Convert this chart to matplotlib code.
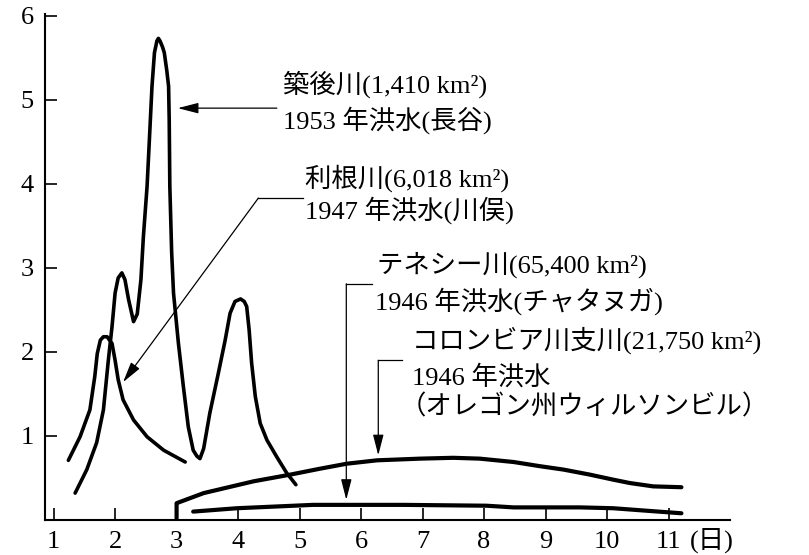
import matplotlib
matplotlib.use("Agg")
import matplotlib.pyplot as plt

plt.rcParams['font.family'] = ['Liberation Serif', 'Noto Sans CJK JP', 'DejaVu Sans']

# 筑後川 1953 (長谷)
chikugo_x = [1.35, 1.54, 1.70, 1.81, 1.89, 1.95, 2.0, 2.05, 2.11, 2.16, 2.22, 2.30, 2.36,
             2.42, 2.46, 2.52, 2.56, 2.60, 2.64, 2.68, 2.704, 2.73, 2.77, 2.80, 2.84, 2.87, 2.88,
             2.89, 2.92, 2.94, 2.95, 3.03, 3.11, 3.19, 3.27, 3.33, 3.38, 3.44, 3.54, 3.68, 3.79,
             3.87, 3.95, 4.04, 4.10, 4.14, 4.18, 4.22, 4.28, 4.36, 4.47, 4.63, 4.79, 4.94]
chikugo_y = [0.32, 0.60, 0.92, 1.31, 1.90, 2.30, 2.70, 2.88, 2.94, 2.86, 2.62, 2.36, 2.45,
             2.86, 3.37, 3.97, 4.56, 5.16, 5.56, 5.70, 5.73, 5.70, 5.63, 5.56, 5.35, 5.16, 4.76,
             3.97, 3.18, 2.86, 2.70, 2.10, 1.59, 1.11, 0.83, 0.76, 0.73, 0.85, 1.27, 1.75, 2.14,
             2.46, 2.60, 2.63, 2.60, 2.54, 2.26, 1.87, 1.47, 1.15, 0.95, 0.75, 0.56, 0.42]

# 利根川 1947 (川俣)
tone_x = [1.24, 1.43, 1.59, 1.67, 1.71, 1.76, 1.81, 1.87, 1.95, 2.0, 2.05, 2.13, 2.30,
          2.52, 2.79, 3.14]
tone_y = [0.71, 0.99, 1.31, 1.71, 1.98, 2.14, 2.18, 2.18, 2.10, 1.90, 1.67, 1.43, 1.19,
          0.99, 0.83, 0.69]

# コロンビア川支川 1946
columbia_x = [3.0, 3.0, 3.44, 4.25, 4.85, 5.33, 5.77, 6.26, 6.96, 7.5, 7.93, 8.48, 8.91,
              9.29, 9.72, 10.1, 10.37, 10.75, 11.21]
columbia_y = [0.02, 0.20, 0.32, 0.46, 0.54, 0.61, 0.67, 0.71, 0.73, 0.74, 0.73, 0.69, 0.64,
              0.60, 0.54, 0.48, 0.44, 0.40, 0.39]

# テネシー川 1946 (チャタヌガ)
tennessee_x = [3.27, 3.98, 5.22, 6.69, 8.04, 8.48, 9.56, 10.1, 10.65, 11.21]
tennessee_y = [0.10, 0.14, 0.18, 0.18, 0.17, 0.15, 0.15, 0.14, 0.11, 0.08]

x_ticks = list(range(1, 12))
y_ticks = [1, 2, 3, 4, 5, 6]

fig = plt.figure(figsize=(8.09, 5.55), dpi=100)
ax = fig.add_axes([45 / 809, 35 / 555, 685 / 809, 506 / 555])
ax.set_xlim(0.86, 12.0)
ax.set_ylim(0, 6.02)

for s in ['top', 'right']:
    ax.spines[s].set_visible(False)
for s in ['left', 'bottom']:
    ax.spines[s].set_linewidth(1.5)

ax.set_xticks(x_ticks)
ax.set_yticks(y_ticks)
ax.tick_params(direction='in', length=8.5, width=1.2, labelsize=19, pad=8)

line_kw = dict(color='black', solid_capstyle='round', solid_joinstyle='round')
ax.plot(chikugo_x, chikugo_y, lw=2.6, **line_kw)
ax.plot(tone_x, tone_y, lw=2.6, **line_kw)
ax.plot(columbia_x, columbia_y, lw=3.0, **line_kw)
ax.plot(tennessee_x, tennessee_y, lw=3.0, **line_kw)

fs = 19
arrow = dict(arrowstyle='-|>,head_length=0.7,head_width=0.18', color='black', lw=0.9,
             mutation_scale=18, shrinkA=0, shrinkB=0)
thin = dict(color='black', lw=0.9)

# 筑後川
ax.text(4.73, 5.18, '築後川(1,410 km²)', fontsize=fs, va='center')
ax.text(4.73, 4.76, '1953 年洪水(長谷)', fontsize=fs, va='center')
ax.annotate('', xy=(3.02, 4.9), xytext=(4.63, 4.9), arrowprops=arrow)

# 利根川
ax.text(5.09, 4.07, '利根川(6,018 km²)', fontsize=fs, va='center')
ax.text(5.09, 3.69, '1947 年洪水(川俣)', fontsize=fs, va='center')
ax.plot([5.06, 4.33], [3.83, 3.83], **thin)
ax.annotate('', xy=(2.13, 1.64), xytext=(4.33, 3.83), arrowprops=arrow)

# テネシー川
ax.text(6.26, 3.04, 'テネシー川(65,400 km²)', fontsize=fs, va='center')
ax.text(6.23, 2.60, '1946 年洪水(チャタヌガ)', fontsize=fs, va='center')
ax.plot([6.18, 5.76], [2.81, 2.81], **thin)
ax.annotate('', xy=(5.76, 0.24), xytext=(5.76, 2.81), arrowprops=arrow)

# コロンビア川支川
ax.text(6.83, 2.14, 'コロンビア川支川(21,750 km²)', fontsize=fs, va='center')
ax.text(6.83, 1.70, '1946 年洪水', fontsize=fs, va='center')
ax.text(6.63, 1.35, '（オレゴン州ウィルソンビル）', fontsize=fs, va='center')
ax.plot([6.67, 6.28], [1.90, 1.90], **thin)
ax.annotate('', xy=(6.28, 0.77), xytext=(6.28, 1.90), arrowprops=arrow)

fig.text(690 / 809, 1 - 540 / 555, '(日)', fontsize=19, va='center')

fig.savefig('out.png', dpi=100)
